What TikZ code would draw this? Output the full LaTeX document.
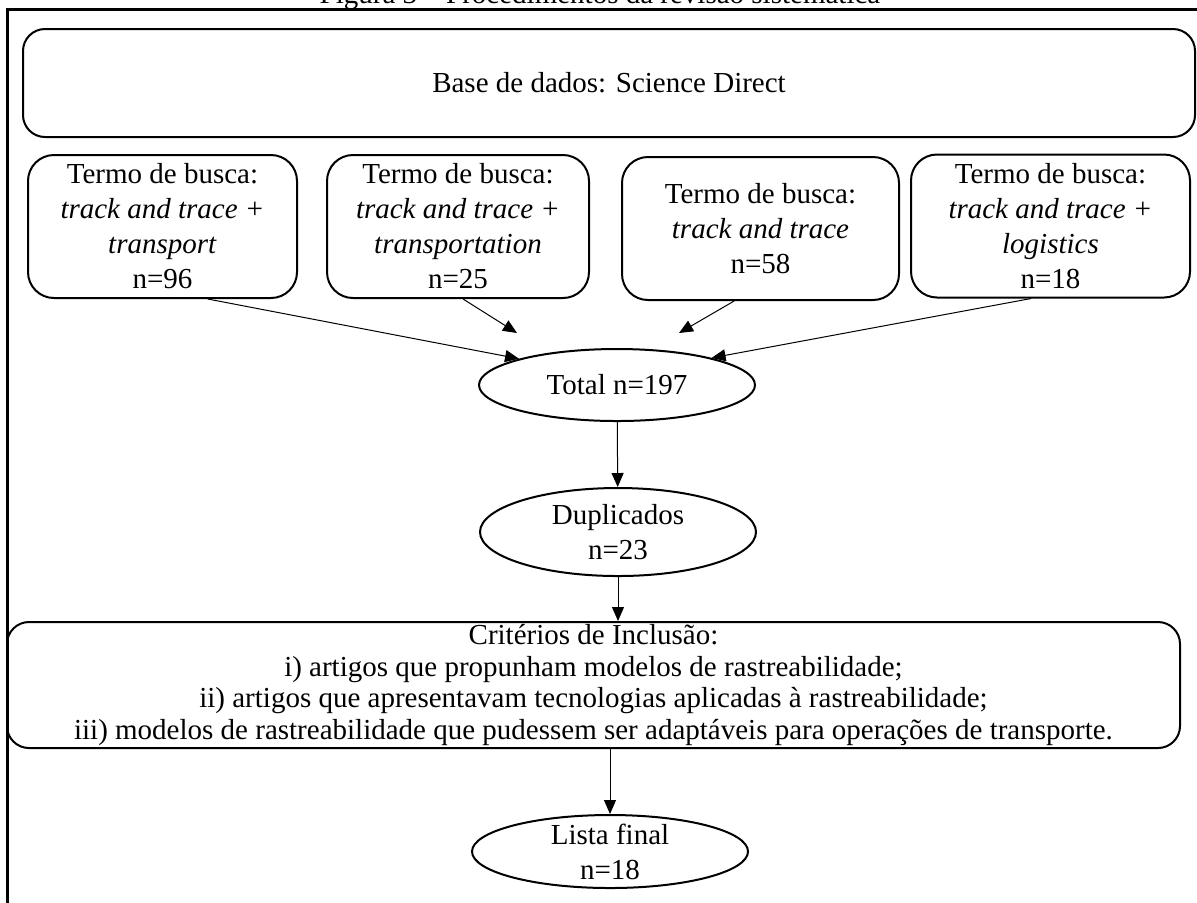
\documentclass[tikz,border=0pt]{standalone}
\usepackage{fontspec}
\setmainfont{Liberation Serif}
\usetikzlibrary{positioning,shapes.geometric,arrows.meta}
\tikzset{
    >={Triangle[length=7pt,width=6pt]},
    caixa/.style = {draw, line width=1pt, rounded corners=11pt, align=center, inner sep=0pt,
                    font=\fontsize{14.5}{17.5}\selectfont},
    termo/.style = {caixa, rounded corners=13pt, minimum height=71.5pt},
    elipse/.style = {draw, ellipse, line width=1pt, align=center, inner xsep=0pt, inner ysep=-8pt,
                     minimum width=138pt, font=\fontsize{14.5}{17.5}\selectfont},
    seta/.style = {->, line width=0.5pt},
}

\begin{document}
\begin{tikzpicture}[x=0.5pt, y=-0.5pt]
    \useasboundingbox (0,0) rectangle (1197,902);

    % moldura e titulo cortado
    \node (titulo) [anchor=base, font=\fontsize{14.5}{17.5}\selectfont] at (600,3)
        {Figura 3 -- Procedimentos da revisão sistemática};
    \draw [line width=1.5pt] (7,1000) -- (7,9) -- (1300,9);

    \node (base) [caixa, minimum width=586pt, minimum height=54pt] at (609,83)
        {Base de dados: Science Direct};

    % termos de busca
    \node (t1) [termo, minimum width=134.5pt] at (162.5,226.5)
        {Termo de busca:\\ \textit{track and trace +}\\ \textit{transport}\\ n=96};
    \node (t2) [termo, minimum width=131pt] at (458,226.5)
        {Termo de busca:\\ \textit{track and trace +}\\ \textit{transportation}\\ n=25};
    \node (t3) [termo, minimum width=138.5pt] at (760.5,228.5)
        {Termo de busca:\\ \textit{track and trace}\\ n=58};
    \node (t4) [termo, minimum width=139.5pt] at (1050.5,226)
        {Termo de busca:\\ \textit{track and trace +}\\ \textit{logistics}\\ n=18};

    % fluxo central
    \node (tot) [elipse, minimum height=36pt] at (617,385) {Total n=197};
    \node (dup) [elipse, minimum height=44pt] at (618,532) {Duplicados\\ n=23};
    \node (crit) [caixa, rounded corners=11pt, minimum width=586.5pt, minimum height=63pt,
                  font=\fontsize{14.5}{15.8}\selectfont] at (593.5,685)
        {Critérios de Inclusão:\\
         i) artigos que propunham modelos de rastreabilidade;\\
         ii) artigos que apresentavam tecnologias aplicadas à rastreabilidade;\\
         iii) modelos de rastreabilidade que pudessem ser adaptáveis para operações de transporte.};
    \node (lst) [elipse, minimum height=36.5pt] at (610,851.5) {Lista final\\ n=18};

    \coordinate (p2) at (517,333);
    \coordinate (p3) at (679,333);

    \draw [seta] (t1.-58) -- (tot.165);
    \draw [seta] (t2.-86) -- (p2);
    \draw [seta] (t3.-110) -- (p3);
    \draw [seta] (t4.-105) -- (tot.16);
    \draw [seta] (tot) -- (dup);
    \draw [seta] (dup.south) -- (dup.south |- crit.north);
    \draw [seta] (crit.south -| lst.north) -- (lst.north);
\end{tikzpicture}
\end{document}
